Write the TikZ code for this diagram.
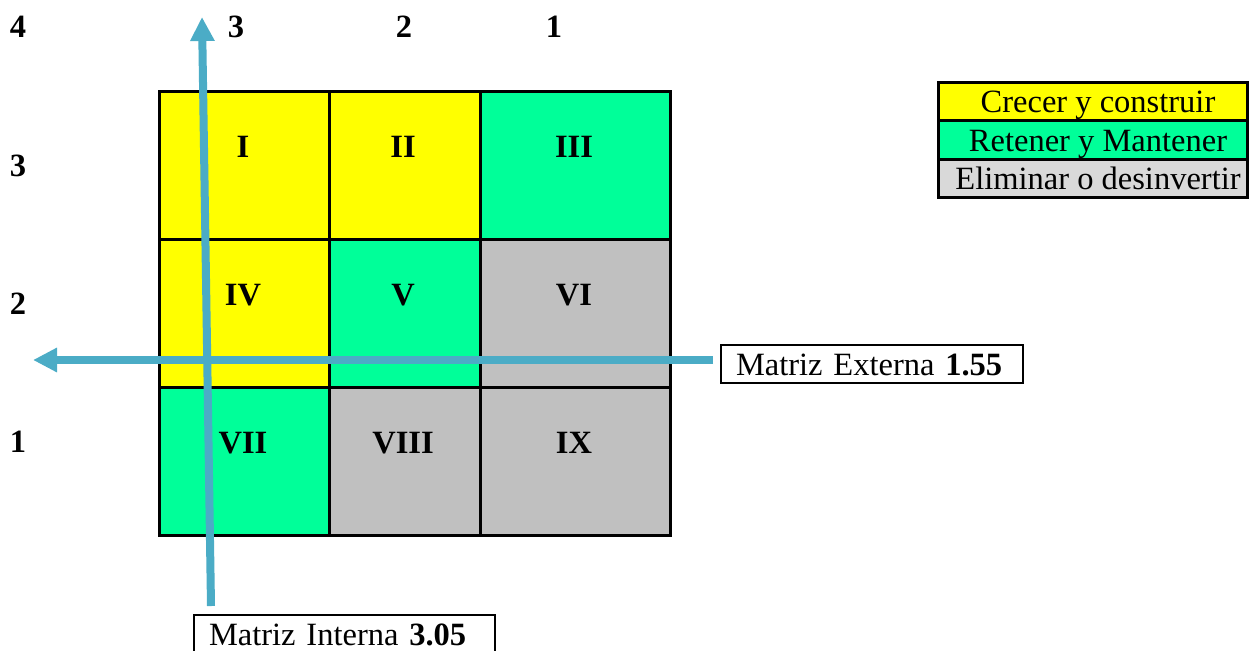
\documentclass[tikz,border=0pt]{standalone}
\usepackage{fontspec}
\setmainfont{Liberation Serif}
\usetikzlibrary{arrows.meta,calc}
\definecolor{growY}{HTML}{FFFF00}
\definecolor{holdG}{HTML}{00FF99}
\definecolor{dropG}{HTML}{C0C0C0}
\definecolor{legG}{HTML}{D9D9D9}
\definecolor{axisB}{HTML}{4BACC6}
\begin{document}
\begin{tikzpicture}[x=1pt,y=-1pt,
  txt/.style={font=\fontsize{32.5}{39}\selectfont, inner sep=0pt},
  bold/.style={font=\fontsize{32.5}{39}\selectfont\bfseries, inner sep=0pt, anchor=base},
  cell/.style={draw=black, line width=3pt, minimum height=148pt, inner sep=0pt, anchor=north west},
  legrow/.style={draw=black, line width=3pt, minimum width=309pt, minimum height=38pt, inner sep=0pt},
  tagbox/.style={draw=black, line width=2pt, minimum height=38pt, inner xsep=15pt, inner ysep=0pt,
                 text height=22pt, text depth=0pt, align=left, anchor=north west,
                 font=\fontsize{32.5}{39}\selectfont},
  axisarrow/.style={draw=axisB, line width=8pt, -{Triangle[length=24pt,width=23pt]}}]
\useasboundingbox (0,0) rectangle (1249,650);
\clip (0,0) rectangle (1249,650);

% scale labels
\node[bold] (t4) at (18,38) {4};
\node[bold] (t3) at (236,38) {3};
\node[bold] (t2) at (404,38) {2};
\node[bold] (t1) at (554,38) {1};
\node[bold] (l3) at (18,176) {3};
\node[bold] (l2) at (18,314) {2};
\node[bold] (l1) at (18,452) {1};

% the nine cells
\node[cell, fill=growY, minimum width=170pt] (c1) at (158,90) {};
\node[cell, fill=growY, minimum width=151pt] (c2) at (328,90) {};
\node[cell, fill=holdG, minimum width=190pt] (c3) at (479,90) {};
\node[cell, fill=growY, minimum width=170pt] (c4) at (158,238) {};
\node[cell, fill=holdG, minimum width=151pt] (c5) at (328,238) {};
\node[cell, fill=dropG, minimum width=190pt] (c6) at (479,238) {};
\node[cell, fill=holdG, minimum width=170pt] (c7) at (158,386) {};
\node[cell, fill=dropG, minimum width=151pt] (c8) at (328,386) {};
\node[cell, fill=dropG, minimum width=190pt] (c9) at (479,386) {};

% roman numerals
\node[bold] (n1) at (243,157) {I};
\node[bold] (n2) at (403,157) {II};
\node[bold] (n3) at (574,157) {III};
\node[bold] (n4) at (243,305) {IV};
\node[bold] (n5) at (403,305) {V};
\node[bold] (n6) at (574,305) {VI};
\node[bold] (n7) at (243,453) {VII};
\node[bold] (n8) at (403,453) {VIII};
\node[bold] (n9) at (574,453) {IX};

% legend
\node[legrow, fill=growY] (g1) at (1092.5,102) {};
\node[legrow, fill=holdG] (g2) at (1092.5,140) {};
\node[legrow, fill=legG]  (g3) at (1092.5,178) {};
\node[txt, anchor=base] (gt1) at (1098,113) {Crecer y construir};
\node[txt, anchor=base] (gt2) at (1098,151) {Retener y Mantener};
\node[txt, anchor=base] (gt3) at (1098,189) {Eliminar o desinvertir};

% value labels
\node[tagbox, text width=272pt] (ext) at (720,344) {Matriz Externa \textbf{1.55}};
\node[tagbox, text width=271pt] (int) at (193,614) {Matriz Interna \textbf{3.05}};

% axis arrows
\coordinate (htip) at (33,360);
\coordinate (vtip) at (202,17);
\coordinate (vbase) at ($(int.north west)+(18,-8)$);
\draw[axisarrow, shorten <=7pt] (ext.west |- htip) -- (htip);
\draw[axisarrow] (vbase) -- (vtip);
\end{tikzpicture}
\end{document}
